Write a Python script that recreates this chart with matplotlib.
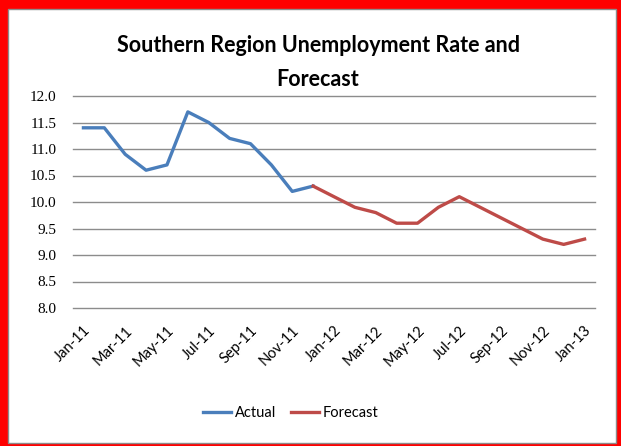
import matplotlib.pyplot as plt
from matplotlib.patches import Rectangle

months = ['Jan-11', 'Feb-11', 'Mar-11', 'Apr-11', 'May-11', 'Jun-11',
          'Jul-11', 'Aug-11', 'Sep-11', 'Oct-11', 'Nov-11', 'Dec-11',
          'Jan-12', 'Feb-12', 'Mar-12', 'Apr-12', 'May-12', 'Jun-12',
          'Jul-12', 'Aug-12', 'Sep-12', 'Oct-12', 'Nov-12', 'Dec-12',
          'Jan-13']
actual = [11.4, 11.4, 10.9, 10.6, 10.7, 11.7, 11.5, 11.2, 11.1, 10.7, 10.2, 10.3]
forecast = [10.3, 10.1, 9.9, 9.8, 9.6, 9.6, 9.9, 10.1, 9.9, 9.7, 9.5, 9.3, 9.2, 9.3]
y_ticks = [8.0, 8.5, 9.0, 9.5, 10.0, 10.5, 11.0, 11.5, 12.0]

W, H = 621, 446
fig = plt.figure(figsize=(W / 100, H / 100), dpi=100)
fig.patch.set_facecolor('#ff0000')
# white chart area with thin gray border inside the red frame
fig.patches.append(Rectangle((8 / W, 1 - 443 / H), (616 - 8) / W, (443 - 9) / H,
                             transform=fig.transFigure, facecolor='white',
                             edgecolor='#8c8c8c', linewidth=1, zorder=-10))

ax = fig.add_axes([73 / W, 1 - 308 / H, (595 - 73) / W, (308 - 96) / H])
ax.set_facecolor('none')

x_act = list(range(len(actual)))
x_fc = list(range(len(actual) - 1, len(actual) - 1 + len(forecast)))
ax.plot(x_act, actual, color='#4a7ebb', linewidth=2.4, label='Actual', zorder=3)
ax.plot(x_fc, forecast, color='#be4b48', linewidth=2.4, label='Forecast', zorder=3)

ax.set_xlim(-0.5, len(months) - 0.5)
ax.set_ylim(8.0, 12.0)
ax.set_yticks(y_ticks)
ax.set_yticklabels(['%.1f' % v for v in y_ticks], fontfamily='Liberation Serif', fontsize=11)
ax.yaxis.grid(True, color='#8c8c8c', linewidth=1)
for gl in ax.get_ygridlines():
    gl.set_clip_on(False)
ax.set_axisbelow(True)

ax.set_xticks(range(0, len(months), 2))
ax.set_xticklabels(months[::2], rotation=45, ha='right', va='top',
                   rotation_mode='anchor', fontfamily='Lato', fontsize=10.5)
ax.tick_params(axis='both', length=0)
ax.tick_params(axis='x', pad=11)
ax.tick_params(axis='y', pad=12)

for s in ax.spines.values():
    s.set_visible(False)

fig.text(318 / W, 1 - 62.5 / H, 'Southern Region Unemployment Rate and\nForecast',
         ha='center', va='center', fontfamily='Lato', fontweight='bold',
         fontsize=15.5, linespacing=1.75)

fig.legend(loc='center', bbox_to_anchor=(291 / W, 1 - 413 / H), ncol=2,
           frameon=False, prop={'family': 'Lato', 'size': 10.5},
           handlelength=1.9, handletextpad=0.3, columnspacing=1.0)

fig.savefig('out.png', dpi=100)
